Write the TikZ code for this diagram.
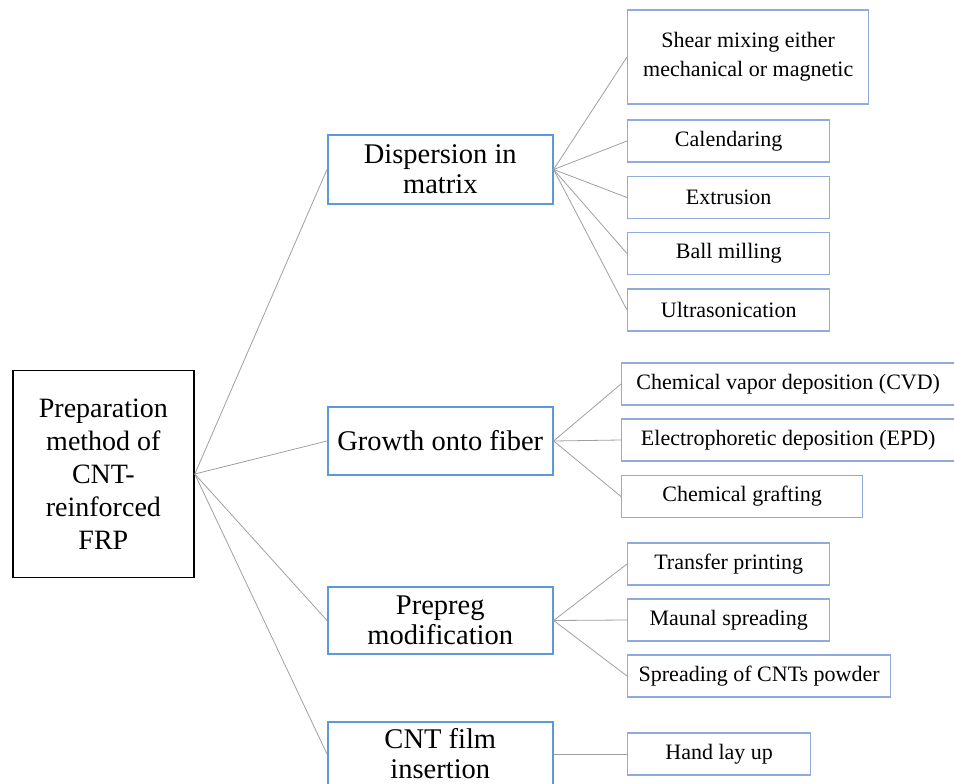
\documentclass[tikz,border=0pt]{standalone}
\usepackage{fontspec}
\setmainfont{Liberation Serif}
\definecolor{lvone}{HTML}{5B9BD5}
\definecolor{lvtwo}{HTML}{8FAADC}
\definecolor{conn}{HTML}{A0A0A0}
\begin{document}
\begin{tikzpicture}[x=1pt,y=-1pt,
  rootbox/.style={draw=black,line width=1.8pt,fill=white,inner sep=0pt,minimum width=181pt,minimum height=207pt,
    align=center,font=\fontsize{28}{33}\selectfont,anchor=west},
  lonebox/.style={draw=lvone,line width=1.6pt,fill=white,inner sep=0pt,minimum width=225pt,
    align=center,font=\fontsize{28.5}{30}\selectfont,anchor=west},
  ltwobox/.style={draw=lvtwo,line width=1.4pt,fill=white,inner sep=0pt,minimum height=42pt,
    align=center,font=\fontsize{22}{29}\selectfont,anchor=west},
  link/.style={draw=conn,line width=0.8pt}]
\useasboundingbox (0,0) rectangle (954,784);
\begin{scope}
\clip (0,0) rectangle (954,784);
% root
\node[rootbox] (root) at (12,474) {Preparation\\method of\\CNT-\\reinforced\\FRP};
% level 1
\node[lonebox,minimum height=69pt] (disp) at (327,169.5) {Dispersion in\\matrix};
\node[lonebox,minimum height=68pt] (grow) at (327,441) {Growth onto fiber};
\node[lonebox,minimum height=67pt] (prep) at (327,620.5) {Prepreg\\modification};
\node[lonebox,minimum height=64pt] (film) at (327,754) {CNT film\\insertion};
% level 2
\node[ltwobox,minimum width=241pt,minimum height=94pt] (shear) at (627,57) {Shear mixing either\\mechanical or magnetic};
\node[ltwobox,minimum width=202pt] (cal) at (627,141) {Calendaring};
\node[ltwobox,minimum width=202pt] (ext) at (627,197.5) {Extrusion};
\node[ltwobox,minimum width=202pt] (ball) at (627,253.5) {Ball milling};
\node[ltwobox,minimum width=202pt] (ultra) at (627,310) {Ultrasonication};
\node[ltwobox,minimum width=333pt] (cvd) at (621,384) {Chemical vapor deposition (CVD)};
\node[ltwobox,minimum width=333pt] (epd) at (621,440) {Electrophoretic deposition (EPD)};
\node[ltwobox,minimum width=241pt] (graft) at (621,496.5) {Chemical grafting};
\node[ltwobox,minimum width=202pt] (trans) at (627,564) {Transfer printing};
\node[ltwobox,minimum width=202pt] (maun) at (627,620) {Maunal spreading};
\node[ltwobox,minimum width=263pt] (spread) at (627,676) {Spreading of CNTs powder};
\node[ltwobox,minimum width=183pt] (hand) at (627,754) {Hand lay up};
% connectors
\foreach \t in {disp,grow,prep,film} \path[link] (root.east) -- (\t.west);
\foreach \t in {shear,cal,ext,ball,ultra} \path[link] (disp.east) -- (\t.west);
\foreach \t in {cvd,epd,graft} \path[link] (grow.east) -- (\t.west);
\foreach \t in {trans,maun,spread} \path[link] (prep.east) -- (\t.west);
\path[link] (film.east) -- (hand.west);
\end{scope}
\end{tikzpicture}
\end{document}
